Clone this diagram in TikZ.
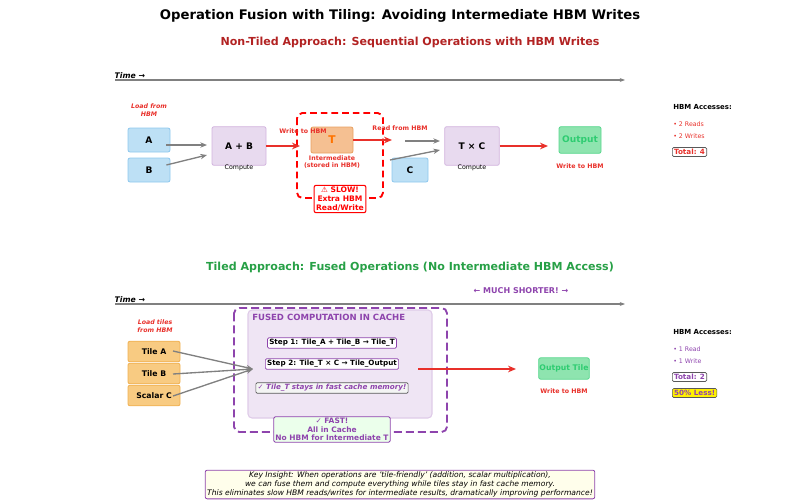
\documentclass[tikz,border=0pt]{standalone}
\usepackage{fontspec}
\setmainfont{DejaVu Sans}
\usetikzlibrary{arrows.meta}
\definecolor{hred}{HTML}{E8302A}
\definecolor{dred}{HTML}{B22222}
\definecolor{pur}{HTML}{8E44AD}
\definecolor{gr}{HTML}{27A046}
\definecolor{bluef}{HTML}{BDE0F5}\definecolor{blueb}{HTML}{8EC8EE}
\definecolor{purf}{HTML}{E8DAEF}\definecolor{purb}{HTML}{D2B4DE}
\definecolor{orf}{HTML}{F5C092}\definecolor{orb}{HTML}{E8A060}
\definecolor{grf}{HTML}{8EE4AF}\definecolor{grb}{HTML}{58D68D}\definecolor{grt}{HTML}{2ECC71}
\definecolor{tilef}{HTML}{F8CB82}\definecolor{tileb}{HTML}{F0B050}
\tikzset{
 box/.style={draw, rounded corners=1.5pt, line width=0.6pt, inner sep=0pt, font=\bfseries\fontsize{6.8}{7}\selectfont},
 small/.style={font=\fontsize{4.7}{5.6}\selectfont, align=center},
 garr/.style={-{Stealth[length=5pt,width=4pt]}, draw=gray, line width=1pt},
 rarr/.style={-{Stealth[length=6pt,width=5pt]}, draw=hred, line width=1.1pt},
 tbox/.style={draw=gray!70!black, rounded corners=1pt, line width=0.5pt, inner sep=1.3pt, font=\bfseries\fontsize{5.4}{6.4}\selectfont},
}
\begin{document}
\begin{tikzpicture}[x=0.75pt,y=-0.75pt]
\useasboundingbox (0,0) rectangle (800,500);
\node (title) at (400,16) {\bfseries\fontsize{9.9}{11}\selectfont Operation Fusion with Tiling: Avoiding Intermediate HBM Writes};
\node[text=dred] (sub1) at (410,42) {\bfseries\fontsize{8.3}{9}\selectfont Non-Tiled Approach: Sequential Operations with HBM Writes};
\coordinate (t1a) at (115,80); \coordinate (t1b) at (625,80);
\draw[-{Stealth[length=4pt]}, draw=gray, line width=1pt] (t1a) -- (t1b);
\node[anchor=south west, inner sep=1pt, font=\bfseries\itshape\fontsize{5.8}{6}\selectfont] (time1) at (113,80) {Time →};
\node[small, text=hred, font=\bfseries\itshape\fontsize{4.7}{5.6}\selectfont] (load1) at (149,110) {Load from\\HBM};
\node[box, fill=bluef, draw=blueb, minimum width=31.5pt, minimum height=18pt] (A) at (149,140) {A};
\node[box, fill=bluef, draw=blueb, minimum width=31.5pt, minimum height=18pt] (B) at (149,170) {B};
\node[box, fill=purf, draw=purb, minimum width=40.5pt, minimum height=29pt] (AB) at (239,146) {A + B};
\node[small] (cmp1) at (239,168) {Compute};
\draw[garr] (A.east) ++(-4,5) -- (207,145);
\draw[garr] (B.east) ++(-4,-5) -- (207,155);
\draw[red, line width=1.4pt, dash pattern=on 5pt off 3pt, rounded corners=4pt] (297,113) rectangle (383,198);
\node[box, fill=orf, draw=orb, minimum width=31.5pt, minimum height=19.5pt, text=orange!90!red] (T) at (332,140) {\fontsize{8}{9}\selectfont T};
\draw[rarr] (AB.east) -- (300,146);
\node[small, text=hred, font=\bfseries\fontsize{4.7}{5.6}\selectfont] (w1) at (303,131) {Write to HBM};
\node[small, text=hred, font=\bfseries\fontsize{4.7}{5.6}\selectfont] (int) at (332,162) {Intermediate\\(stored in HBM)};
\draw[rarr] (T.east) -- (392,140);
\node[small, text=hred, font=\bfseries\fontsize{4.7}{5.6}\selectfont] (r1) at (400,128) {Read from HBM};
\node[draw=red, fill=white, rounded corners=1.5pt, line width=0.8pt, text=red, align=center, inner sep=1.5pt, font=\bfseries\fontsize{5.7}{6.4}\selectfont] (slow) at (340,199) {⚠ SLOW!\\Extra HBM\\Read/Write};
\node[box, fill=bluef, draw=blueb, minimum width=27pt, minimum height=18pt] (C) at (410,170) {C};
\node[box, fill=purf, draw=purb, minimum width=41pt, minimum height=29pt] (TC) at (472,146) {T × C};
\node[small] (cmp2) at (472,168) {Compute};
\draw[garr] (405,141) -- (440,141);
\draw[garr] (390,160) -- (440,150);
\node[box, fill=grf, draw=grb, text=grt, minimum width=31.5pt, minimum height=20pt] (out1) at (580,140) {Output};
\draw[rarr] (TC.east) -- (548,146);
\node[small, text=hred, font=\bfseries\fontsize{4.7}{5.6}\selectfont] (w2) at (580,166) {Write to HBM};
\node[anchor=west, inner sep=0pt, font=\bfseries\fontsize{5.2}{6}\selectfont] (h1) at (673,107) {HBM Accesses:};
\node[anchor=west, inner sep=0pt, small, text=hred] (r2) at (673,124) {• 2 Reads};
\node[anchor=west, inner sep=0pt, small, text=hred] (w3) at (673,136) {• 2 Writes};
\node[tbox, anchor=west, text=hred, fill=white] (tot1) at (672,152) {Total: 4};
\node[text=gr] (sub2) at (410,267) {\bfseries\fontsize{8.3}{9}\selectfont Tiled Approach: Fused Operations (No Intermediate HBM Access)};
\coordinate (t2a) at (115,304); \coordinate (t2b) at (625,304);
\draw[-{Stealth[length=4pt]}, draw=gray, line width=1pt] (t2a) -- (t2b);
\node[anchor=south west, inner sep=1pt, font=\bfseries\itshape\fontsize{5.8}{6}\selectfont] (time2) at (113,304) {Time →};
\node[text=pur, font=\bfseries\fontsize{6}{6.5}\selectfont] (short) at (521,291) {← MUCH SHORTER! →};
\node[small, text=hred, font=\bfseries\itshape\fontsize{4.7}{5.6}\selectfont] (load2) at (155,326) {Load tiles\\from HBM};
\tikzset{tile/.style={box, fill=tilef, draw=tileb, minimum width=39pt, minimum height=15.5pt, font=\bfseries\fontsize{5.8}{6}\selectfont}}
\node[tile] (ta) at (154,351.5) {Tile A};
\node[tile] (tb) at (154,373.5) {Tile B};
\node[tile] (sc) at (154,395.5) {Scalar C};
\draw[pur, line width=1.4pt, dash pattern=on 6pt off 3pt, rounded corners=4pt] (234,308) rectangle (447,432);
\draw[fill=purf!70!white, draw=purb!70!white, line width=0.8pt, rounded corners=3pt] (248,310) rectangle (432,418);
\node[anchor=west, text=pur, font=\bfseries\fontsize{6.4}{7}\selectfont, inner sep=0pt] (fused) at (252,317) {FUSED COMPUTATION IN CACHE};
\coordinate (conv) at (253,369);
\draw[garr] (173,351) -- (conv);
\draw[garr] (173,374) -- (conv);
\draw[garr] (173,396) -- (conv);
\node[tbox, draw=pur, fill=white, text=black] (s1) at (332,343) {Step 1: Tile\_A + Tile\_B → Tile\_T};
\node[tbox, draw=pur, fill=white, text=black] (s2) at (332,364) {Step 2: Tile\_T × C → Tile\_Output};
\node[tbox, fill=green!5!gray!8, text=pur, font=\bfseries\itshape\fontsize{5.4}{6.4}\selectfont] (stay) at (332,388) {✓ Tile\_T stays in fast cache memory!};
\node[box, fill=grf, draw=grb, text=grt, minimum width=38pt, minimum height=16pt, font=\bfseries\fontsize{5.8}{6}\selectfont] (out2) at (564,368.5) {Output Tile};
\coordinate (rs) at (418,369);
\draw[rarr] (rs) -- (516,369);
\node[small, text=hred, font=\bfseries\fontsize{4.7}{5.6}\selectfont] (w4) at (564,391) {Write to HBM};
\node[draw=pur, fill=green!8, rounded corners=1pt, line width=0.6pt, text=pur, align=center, inner sep=1.2pt, font=\bfseries\fontsize{5.6}{6.2}\selectfont] (fast) at (332,429.5) {✓ FAST!\\All in Cache\\No HBM for Intermediate T};
\node[anchor=west, inner sep=0pt, font=\bfseries\fontsize{5.2}{6}\selectfont] (h2) at (673,332) {HBM Accesses:};
\node[anchor=west, inner sep=0pt, small, text=pur] (r3) at (673,349) {• 1 Read};
\node[anchor=west, inner sep=0pt, small, text=pur] (w5) at (673,361) {• 1 Write};
\node[tbox, anchor=west, text=pur, fill=white] (tot2) at (672,377) {Total: 2};
\node[tbox, anchor=west, text=pur, fill=yellow] (less) at (672,393) {50\% Less!};
\node[draw=pur, fill=yellow!8, rounded corners=1.5pt, line width=0.6pt, align=center, inner sep=1.5pt, font=\itshape\fontsize{5.7}{6.5}\selectfont] (key) at (400,484.5) {Key Insight: When operations are 'tile-friendly' (addition, scalar multiplication),\\we can fuse them and compute everything while tiles stay in fast cache memory.\\This eliminates slow HBM reads/writes for intermediate results, dramatically improving performance!};
\end{tikzpicture}
\end{document}
